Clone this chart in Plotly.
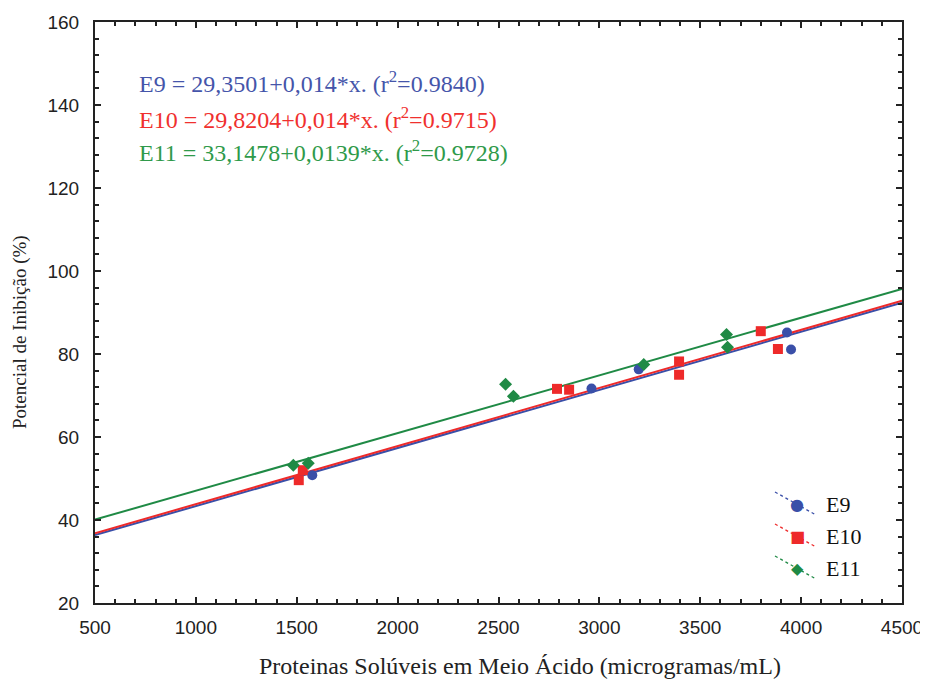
import plotly.graph_objects as go

# ---- data ----
e9_x = [1577, 2961, 3195, 3930, 3950]
e9_y = [50.8, 71.7, 76.3, 85.2, 81.1]

e10_x = [1510, 1530, 2790, 2850, 3395, 3395, 3800, 3885]
e10_y = [49.6, 52.0, 71.6, 71.4, 78.2, 75.0, 85.5, 81.2]

e11_x = [1483, 1557, 2535, 2574, 3220, 3630, 3635]
e11_y = [53.2, 53.7, 72.7, 69.8, 77.5, 84.7, 81.6]

series_names = ["E9", "E10", "E11"]
intercepts = [29.3501, 29.8204, 33.1478]
slopes = [0.014, 0.014, 0.0139]
r2_values = ["0.9840", "0.9715", "0.9728"]
intercept_labels = ["29,3501", "29,8204", "33,1478"]
slope_labels = ["0,014", "0,014", "0,0139"]
line_x = [500, 4500]

x_ticks = [500, 1000, 1500, 2000, 2500, 3000, 3500, 4000, 4500]
y_ticks = [20, 40, 60, 80, 100, 120, 140, 160]

colors = ["#3a4fa8", "#ee2a2a", "#1f8a45"]
text_colors = ["#4555aa", "#f0302e", "#2f9a4a"]
symbols = ["circle", "square", "diamond"]

# page offset from the default body margin of the html page
OFF = 8
# plot-area geometry in page pixels: x 95..902, y 22..603
W, H = 928 - OFF, 682 - OFF
L, T = 95 - OFF, 22 - OFF
R = W - (902 - OFF)
B = H - (603 - OFF)
PW, PH = W - L - R, H - T - B

def px_x(p):
    return (p - OFF - L) / PW

def px_y(p):
    return (H - B - (p - OFF)) / PH

fig = go.Figure()

pts = [(e9_x, e9_y), (e10_x, e10_y), (e11_x, e11_y)]
for i, name in enumerate(series_names):
    ly = [intercepts[i] + slopes[i] * v for v in line_x]
    fig.add_trace(go.Scatter(x=line_x, y=ly, mode="lines",
                             line=dict(color=colors[i], width=2),
                             showlegend=False, hoverinfo="skip"))
for i, name in enumerate(series_names):
    px, py = pts[i]
    fig.add_trace(go.Scatter(x=px, y=py, mode="markers", name=name,
                             marker=dict(color=colors[i], symbol=symbols[i], size=10,
                                         line=dict(width=0)),
                             showlegend=False))

annotations = []
# equations
eq_py = [82, 118, 151]
for i, name in enumerate(series_names):
    txt = f"{name} = {intercept_labels[i]}+{slope_labels[i]}*x. (r<sup>2</sup>={r2_values[i]})"
    annotations.append(dict(xref="paper", yref="paper", x=px_x(137), y=px_y(eq_py[i]),
                            xanchor="left", yanchor="middle", showarrow=False,
                            text=txt,
                            font=dict(family="Liberation Serif", size=24, color=text_colors[i])))

# custom legend (diagonal line with marker, like the original)
shapes = []
leg_py = [504, 536, 568]
for i, name in enumerate(series_names):
    yc = leg_py[i]
    shapes.append(dict(type="line", xref="paper", yref="paper",
                       x0=px_x(775), y0=px_y(yc - 12), x1=px_x(816), y1=px_y(yc + 11),
                       line=dict(color=colors[i], width=1.3, dash="dot")))
    annotations.append(dict(xref="paper", yref="paper", x=px_x(797), y=px_y(yc),
                            xanchor="center", yanchor="middle", showarrow=False,
                            text={"circle": "●", "square": "■", "diamond": "◆"}[symbols[i]],
                            font=dict(family="DejaVu Sans", size=16, color=colors[i])))
    annotations.append(dict(xref="paper", yref="paper", x=px_x(824), y=px_y(yc),
                            xanchor="left", yanchor="middle", showarrow=False,
                            text=name,
                            font=dict(family="Liberation Serif", size=22, color="#111")))

# axis titles
annotations.append(dict(xref="paper", yref="paper", x=px_x(520), y=px_y(666),
                        xanchor="center", yanchor="middle", showarrow=False,
                        text="Proteinas Solúveis em Meio Ácido (microgramas/mL)",
                        font=dict(family="Liberation Serif", size=24, color="#222")))
annotations.append(dict(xref="paper", yref="paper", x=px_x(20), y=px_y(332),
                        xanchor="center", yanchor="middle", showarrow=False, textangle=-90,
                        text="Potencial de Inibição (%)",
                        font=dict(family="Liberation Serif", size=19, color="#222")))

axis_common = dict(showline=True, linewidth=2, linecolor="#222", mirror="ticks",
                   ticks="inside", ticklen=6, tickwidth=2, tickcolor="#222",
                   showgrid=False, zeroline=False, automargin=False,
                   tickfont=dict(family="Liberation Sans", size=19, color="#222"))

fig.update_layout(
    width=W, height=H,
    margin=dict(l=L, r=R, t=T, b=B),
    paper_bgcolor="white", plot_bgcolor="white",
    xaxis=dict(range=[500, 4500], tickvals=x_ticks, ticktext=[str(v) for v in x_ticks],
               minor=dict(dtick=100, ticks="inside", ticklen=4, tickwidth=2, tickcolor="#222"),
               ticklabelstandoff=6,
               **axis_common),
    yaxis=dict(range=[20, 160], tickvals=y_ticks, ticktext=[str(v) for v in y_ticks],
               minor=dict(dtick=4, ticks="inside", ticklen=4, tickwidth=2, tickcolor="#222"),
               ticklabelstandoff=10,
               **axis_common),
    annotations=annotations,
    shapes=shapes,
    showlegend=False,
)

fig.write_html("out.html")
